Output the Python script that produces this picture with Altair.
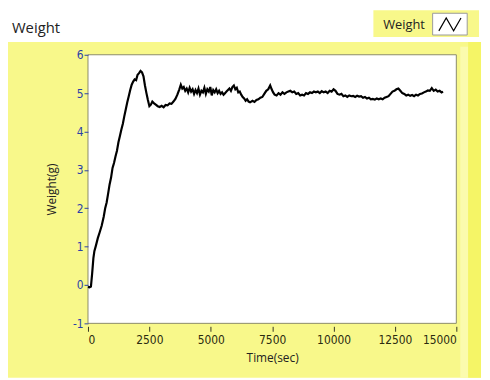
import altair as alt
import pandas as pd

# --- data ---
time_sec = [0, 60, 120, 170, 220, 260, 320, 400, 480, 560, 640, 700, 760, 820, 880, 940,
            1000, 1060, 1120, 1180, 1240, 1300, 1360, 1420, 1480, 1540, 1600, 1660, 1720,
            1780, 1840, 1900, 1960, 2020, 2080, 2140, 2200, 2260, 2320, 2380, 2440, 2500,
            2560, 2620, 2680, 2760, 2840, 2920, 3000, 3080, 3160, 3240, 3320, 3400, 3480,
            3560, 3640, 3720, 3780, 3840, 3900, 3960, 4020, 4080, 4140, 4200, 4260, 4320,
            4380, 4440, 4500, 4560, 4620, 4680, 4740, 4800, 4860, 4920, 4980, 5040, 5100,
            5160, 5220, 5280, 5340, 5400, 5460, 5520, 5580, 5640, 5700, 5760, 5820, 5880,
            5940, 6000, 6060, 6120, 6180, 6240, 6300, 6360, 6420, 6480, 6540, 6600, 6700,
            6780, 6860, 6940, 7020, 7100, 7180, 7260, 7340, 7420, 7480, 7540, 7600, 7680,
            7760, 7840, 7920, 8000, 8080, 8160, 8240, 8320, 8400, 8480, 8560, 8640, 8720,
            8800, 8880, 8960, 9040, 9120, 9200, 9280, 9360, 9440, 9520, 9600, 9680, 9760,
            9840, 9920, 10000, 10080, 10160, 10240, 10320, 10400, 10480, 10560, 10640,
            10720, 10800, 10880, 10960, 11040, 11120, 11200, 11280, 11360, 11440, 11520,
            11600, 11680, 11760, 11840, 11920, 12000, 12080, 12160, 12240, 12320, 12400,
            12480, 12560, 12640, 12720, 12800, 12880, 12960, 13040, 13120, 13200, 13280,
            13360, 13440, 13520, 13600, 13680, 13760, 13840, 13920, 14000, 14080, 14160,
            14240, 14320, 14400, 14460]

weight_g = [-0.05, -0.06, -0.04, 0.30, 0.70, 0.88, 1.02, 1.22, 1.38, 1.55, 1.78, 2.00, 2.15,
            2.38, 2.62, 2.80, 3.05, 3.18, 3.35, 3.50, 3.72, 3.88, 4.05, 4.20, 4.40, 4.58,
            4.76, 4.92, 5.08, 5.22, 5.30, 5.36, 5.34, 5.48, 5.52, 5.58, 5.54, 5.44, 5.20,
            5.00, 4.82, 4.66, 4.70, 4.78, 4.74, 4.70, 4.66, 4.64, 4.67, 4.63, 4.69, 4.68,
            4.73, 4.72, 4.78, 4.85, 4.96, 5.10, 5.22, 5.12, 5.16, 5.06, 5.12, 5.02, 5.14,
            5.04, 5.10, 4.98, 5.08, 5.00, 5.12, 4.96, 5.06, 5.02, 5.14, 4.98, 5.10, 5.04,
            5.16, 4.94, 5.08, 5.02, 5.10, 5.00, 5.06, 4.98, 5.02, 4.96, 5.00, 5.04, 5.08,
            5.12, 5.06, 5.16, 5.20, 5.10, 5.14, 5.02, 5.04, 4.96, 4.90, 4.86, 4.80, 4.84,
            4.78, 4.76, 4.80, 4.77, 4.82, 4.84, 4.88, 4.90, 4.98, 5.06, 5.10, 5.20, 5.10,
            5.02, 4.96, 4.94, 5.00, 4.96, 5.02, 4.98, 5.02, 5.04, 5.06, 5.02, 5.04, 4.98,
            5.00, 4.94, 4.96, 4.94, 5.00, 4.98, 5.02, 5.00, 5.04, 5.02, 5.04, 5.00, 5.05,
            5.02, 5.04, 5.00, 5.06, 5.04, 5.10, 5.06, 4.98, 4.96, 4.98, 4.92, 4.94, 4.90,
            4.94, 4.92, 4.93, 4.90, 4.93, 4.91, 4.92, 4.88, 4.90, 4.86, 4.88, 4.84, 4.85,
            4.83, 4.86, 4.84, 4.86, 4.84, 4.88, 4.90, 4.92, 4.98, 5.04, 5.06, 5.10, 5.12,
            5.06, 5.00, 4.98, 4.94, 4.96, 4.93, 4.95, 4.92, 4.96, 4.94, 4.98, 4.99, 5.02,
            5.04, 5.07, 5.06, 5.13, 5.06, 5.09, 5.04, 5.06, 5.02, 5.04]

x_ticks = [0, 2500, 5000, 7500, 10000, 12500, 15000]
y_ticks = [-1, 0, 1, 2, 3, 4, 5, 6]

chart_title = "Weight"
legend_label = "Weight"
x_title = "Time(sec)"
y_title = "Weight(g)"

df = pd.DataFrame({"t": time_sec, "w": weight_g})
one = pd.DataFrame({"k": [0]})

W, H = 373, 272
PANEL = "#F8F88A"
LABEL_FONT = "Liberation Sans Narrow, DejaVu Sans Condensed, sans-serif"
UI_FONT = "Open Sans, Noto Sans, sans-serif"

# decorative yellow panel (drawn in padding area, outside plot)
panel = alt.Chart(one).mark_rect(color=PANEL).encode(
    x=alt.value(-81), x2=alt.value(398), y=alt.value(-13), y2=alt.value(327))
panel_hi = alt.Chart(one).mark_rect(color="#FBFBAE").encode(
    x=alt.value(377), x2=alt.value(385), y=alt.value(-8), y2=alt.value(327))
panel_edge = alt.Chart(one).mark_rect(color="#F5F566").encode(
    x=alt.value(385), x2=alt.value(398), y=alt.value(-13), y2=alt.value(327))
plot_bg = alt.Chart(one).mark_rect(color="white", stroke="#8a8a6a", strokeWidth=1).encode(
    x=alt.value(0), x2=alt.value(W), y=alt.value(0), y2=alt.value(H))

title_txt = alt.Chart(one).mark_text(
    align="left", baseline="alphabetic", font=UI_FONT, fontSize=15, color="#222222"
).encode(x=alt.value(-77), y=alt.value(-22), text=alt.value(chart_title))

leg_box = alt.Chart(one).mark_rect(color=PANEL).encode(
    x=alt.value(289), x2=alt.value(396), y=alt.value(-45), y2=alt.value(-18))
leg_txt = alt.Chart(one).mark_text(
    align="left", baseline="alphabetic", font=UI_FONT, fontSize=13, color="#222222"
).encode(x=alt.value(299), y=alt.value(-26), text=alt.value(legend_label))
leg_sym_box = alt.Chart(one).mark_rect(color="white", stroke="#999999", strokeWidth=1).encode(
    x=alt.value(349), x2=alt.value(384), y=alt.value(-42), y2=alt.value(-20))
leg_sym = alt.Chart(one).mark_point(
    shape="M-0.9,0.55L-0.3,-0.5L0.3,0.55L0.9,-0.5", filled=False, stroke="black",
    strokeWidth=1.2, size=620, opacity=1
).encode(x=alt.value(366.5), y=alt.value(-31))

line = alt.Chart(df).mark_line(color="black", strokeWidth=2.2).encode(
    x=alt.X("t:Q", scale=alt.Scale(domain=[0, 15000], nice=False, zero=False),
            axis=alt.Axis(title=x_title, values=x_ticks, labelExpr="'' + datum.value",
                          domain=False, grid=False, offset=3, tickSize=5,
                          tickColor="#333322", labelColor="#2a2a10", labelFont=LABEL_FONT,
                          labelFontSize=12, labelPadding=3, titleFont=UI_FONT,
                          titleFontSize=12, titleFontWeight="normal", titleColor="#222222",
                          titlePadding=8, zindex=2)),
    y=alt.Y("w:Q", scale=alt.Scale(domain=[-1, 6], nice=False, zero=False),
            axis=alt.Axis(title=y_title, values=y_ticks, labelExpr="'' + datum.value",
                          domain=False, grid=False, tickSize=4, tickColor="#2B3FA8",
                          labelColor="#2B3FA8", labelFont=LABEL_FONT, labelFontSize=12,
                          labelPadding=1, titleFont=UI_FONT, titleFontSize=12,
                          titleFontWeight="normal", titleColor="#222222",
                          titlePadding=14, zindex=2)),
)

chart = alt.layer(
    panel, panel_hi, panel_edge, plot_bg, title_txt, leg_box, leg_txt, leg_sym_box,
    leg_sym, line
).properties(
    width=W, height=H,
    autosize=alt.AutoSizeParams(type="none"),
    padding={"left": 81, "top": 45, "right": 26, "bottom": 54},
    background="white",
).configure_view(stroke=None)

chart.save("out.html", embed_options={"renderer": "svg", "actions": False})
